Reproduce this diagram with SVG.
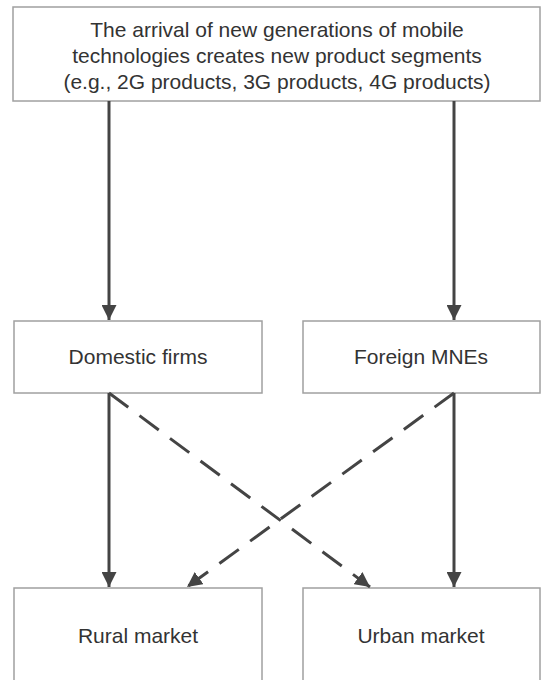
<svg xmlns="http://www.w3.org/2000/svg" width="541" height="680" viewBox="0 0 541 680">
<style>
.box{fill:#fff;stroke:#a0a0a0;stroke-width:1.5}
.t{font-family:"Liberation Sans",Arial,sans-serif;font-size:21px;fill:#333;text-anchor:middle}
.solid{stroke:#444;stroke-width:3;fill:none}
.dash{stroke:#444;stroke-width:3;fill:none;stroke-dasharray:24 14}
</style>
<defs>
<marker id="ah" viewBox="0 0 10 10" refX="10" refY="5" markerWidth="5" markerHeight="5" orient="auto" markerUnits="strokeWidth">
<path d="M0,0 L10,5 L0,10 Z" fill="#444"/>
</marker>
</defs>
<rect width="541" height="680" fill="#fff"/>
<g id="top">
<rect class="box" x="13" y="7" width="527" height="94"/>
<text class="t" x="277" y="37">The arrival of new generations of mobile</text>
<text class="t" x="277" y="63">technologies creates new product segments</text>
<text class="t" x="277" y="89">(e.g., 2G products, 3G products, 4G products)</text>
</g>
<g id="domestic">
<rect class="box" x="14" y="321" width="248" height="72"/>
<text class="t" x="138" y="364">Domestic firms</text>
</g>
<g id="foreign">
<rect class="box" x="303" y="321" width="237" height="72"/>
<text class="t" x="421" y="364">Foreign MNEs</text>
</g>
<g id="rural">
<rect class="box" x="14" y="588" width="248" height="100"/>
<text class="t" x="138" y="643">Rural market</text>
</g>
<g id="urban">
<rect class="box" x="303" y="588" width="237" height="100"/>
<text class="t" x="421" y="643">Urban market</text>
</g>
<g id="connectors">
<line class="solid" x1="109" y1="101" x2="109" y2="320" marker-end="url(#ah)"/>
<line class="solid" x1="454" y1="101" x2="454" y2="320" marker-end="url(#ah)"/>
<line class="solid" x1="109" y1="393" x2="109" y2="587" marker-end="url(#ah)"/>
<line class="solid" x1="454" y1="393" x2="454" y2="587" marker-end="url(#ah)"/>
<line class="dash" x1="109" y1="393" x2="370" y2="587" marker-end="url(#ah)"/>
<line class="dash" x1="454" y1="393" x2="187" y2="587" marker-end="url(#ah)"/>
</g>
</svg>
